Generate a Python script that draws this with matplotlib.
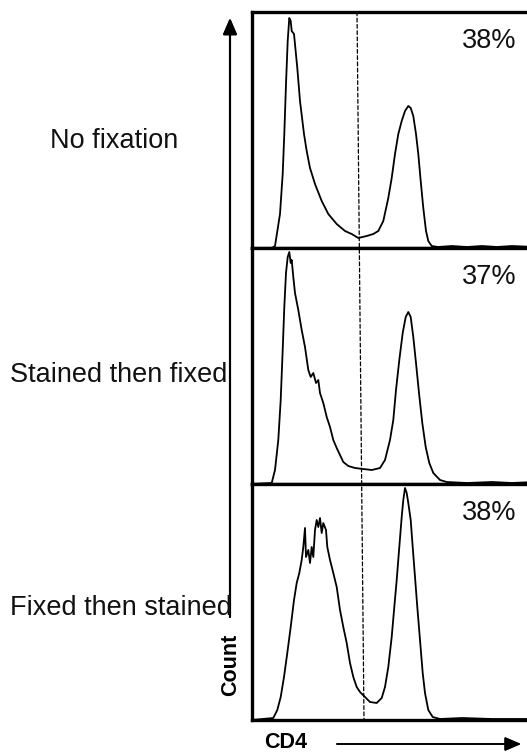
"""CD4 staining histograms: effect of fixation order."""

import matplotlib.pyplot as plt
from matplotlib.patches import ConnectionPatch

plt.rcParams["font.family"] = ["Liberation Sans", "DejaVu Sans"]

# Row labels and gated percentages
conditions = ["No fixation", "Stained then fixed", "Fixed then stained"]
percent_pos = ["38%", "37%", "38%"]

# CD4 channel values and counts
ch_nofix = [0, 20, 23, 28, 30.7, 32.3, 34, 35.7, 37.3, 38.7, 39.7, 42, 45.3, 48, 52,
            54.7, 58, 63, 69.7, 76.3, 84.7, 93, 99.7, 106.3, 114.7, 121.3, 126.3,
            131.3, 136.3, 139.7, 143, 146.3, 149.7, 153, 156.3, 158.7, 161.3, 164,
            166.3, 168.7, 171.3, 174, 176.3, 179.7, 186, 200, 215, 230, 245, 260,
            283]
cnt_nofix = [0, 0, 2, 34, 74, 114, 164, 207, 230, 227, 217, 214, 180, 147, 114, 97,
             80, 64, 47, 34, 24, 17, 14, 10, 12, 14, 17, 27, 50, 70, 94, 114, 127,
             137, 142, 140, 132, 114, 94, 67, 40, 17, 7, 2, 1, 2, 1, 2, 1, 2, 1]

ch_stfix = [0, 19.7, 23, 26.3, 28.7, 30.7, 32.3, 34, 35.7, 37.3, 38.7, 39.7, 41.3,
            43, 46.3, 49.7, 53, 56.3, 58.7, 61.3, 64, 66.3, 68, 71.3, 74.7, 78,
            81.3, 84.7, 88, 91.3, 96.3, 103, 111.3, 119.7, 128, 133, 138, 141.3,
            144, 147.3, 150.7, 153.7, 156.3, 158.7, 161.3, 164, 167, 170.3, 173.7,
            177.3, 181.3, 188, 194.7, 215, 240, 260, 283]
cnt_stfix = [0, 1, 14, 44, 84, 134, 177, 211, 227, 232, 221, 224, 207, 191, 174,
             154, 137, 114, 107, 111, 101, 104, 91, 81, 67, 57, 44, 36, 29, 22, 18,
             16, 15, 14, 16, 24, 44, 64, 94, 124, 151, 167, 172, 167, 147, 121, 91,
             61, 37, 21, 11, 4, 2, 1, 2, 1, 2]

ch_fixst = [0, 21.3, 25.3, 28.7, 32, 35.3, 38.7, 42, 44.7, 47.3, 49.7, 51.3, 53, 54,
            56.3, 58, 59.7, 61.3, 63, 64.7, 66.3, 68, 69.7, 71.3, 74, 75.3, 78,
            81.3, 84.7, 88, 91.3, 94.7, 98, 101.3, 104.7, 108, 113, 118, 124.7,
            129.7, 133, 136.3, 139.7, 142.3, 144.7, 147.3, 149.7, 151.3, 153,
            154.7, 156.3, 158.7, 160.7, 163, 165.3, 168, 170.7, 173, 176.3, 180.7,
            188, 210, 240, 283]
cnt_fixst = [0, 2, 10, 23, 43, 67, 93, 120, 137, 147, 160, 173, 192, 163, 170, 157,
             173, 163, 190, 200, 193, 202, 187, 197, 190, 173, 160, 147, 133, 110,
             93, 77, 57, 43, 33, 28, 23, 18, 17, 22, 33, 53, 83, 113, 140, 173, 203,
             220, 232, 227, 217, 200, 173, 143, 113, 80, 47, 27, 10, 3, 1, 2, 1, 1]

series = [(ch_nofix, cnt_nofix), (ch_stfix, cnt_stfix), (ch_fixst, cnt_fixst)]

# gate position (channel) at top and bottom of the stack
gate_top = 105
gate_bottom = 112

W, H = 527, 752
fig = plt.figure(figsize=(W / 100, H / 100), dpi=100)

left = 252 / W
width = (535 - 252) / W
panel_h = 236 / H
tops = [12, 248, 484]

axes = []
for i, (ch, cnt) in enumerate(series):
    bottom = 1 - (tops[i] + 236) / H
    ax = fig.add_axes([left, bottom, width, panel_h])
    ax.plot(ch, cnt, color="black", linewidth=1.3)
    ax.set_xlim(0, 283)
    ax.set_ylim(0, 236)
    ax.set_xticks([])
    ax.set_yticks([])
    for side in ["left", "top", "bottom"]:
        ax.spines[side].set_linewidth(2.4)
    ax.spines["right"].set_visible(False)
    ax.text(0.742, 0.847, percent_pos[i], transform=ax.transAxes,
            fontsize=19.5, color="#111111", ha="left", va="baseline")
    axes.append(ax)

# dashed gate line across the whole stack
gate = ConnectionPatch(xyA=(gate_top, 236), coordsA=axes[0].transData,
                       xyB=(gate_bottom, 0), coordsB=axes[2].transData,
                       linestyle=(0, (3, 2)), linewidth=0.9, color="black")
fig.add_artist(gate)

# row labels
label_pos = [(50, 148), (10, 382), (10, 615)]
for text, (px, py) in zip(conditions, label_pos):
    fig.text(px / W, 1 - py / H, text, fontsize=19.5, color="#111111",
             ha="left", va="baseline")

# axis arrows
fig.add_artist(plt.annotate(
    "", xy=(230 / W, 1 - 18 / H), xytext=(230 / W, 1 - 617 / H),
    xycoords="figure fraction",
    arrowprops=dict(arrowstyle="-|>,head_length=0.7,head_width=0.3",
                    color="black", lw=1.5, mutation_scale=14, shrinkA=0, shrinkB=0)))
fig.add_artist(plt.annotate(
    "", xy=(521 / W, 1 - 744 / H), xytext=(337 / W, 1 - 744 / H),
    xycoords="figure fraction",
    arrowprops=dict(arrowstyle="-|>,head_length=0.7,head_width=0.3",
                    color="black", lw=1.2, mutation_scale=14, shrinkA=0, shrinkB=0)))

fig.text(231 / W, 1 - 665 / H, "Count", rotation=90, fontsize=15.5,
         fontweight="bold", ha="center", va="center")
fig.text(286 / W, 1 - 743 / H, "CD4", fontsize=15.5, fontweight="bold",
         ha="center", va="center")

fig.savefig("out.png", dpi=100)
